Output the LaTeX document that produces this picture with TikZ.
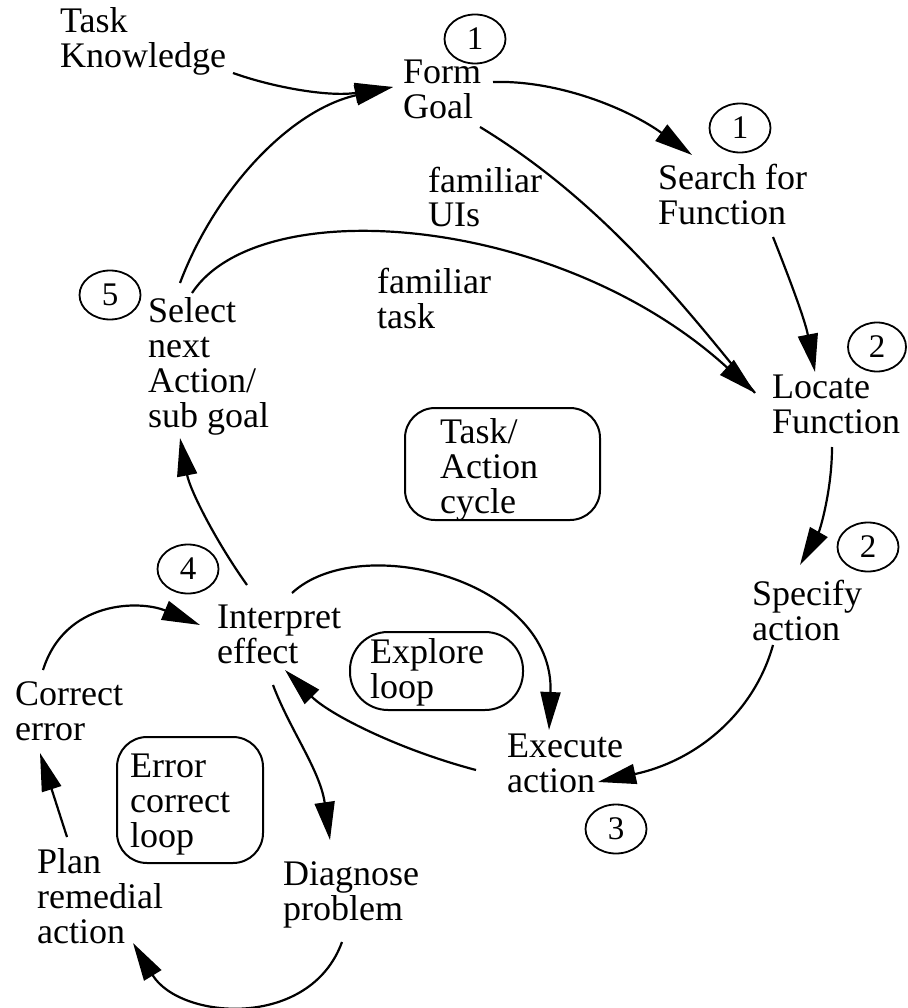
\documentclass[tikz,border=0pt]{standalone}
\usepackage{fontspec}
\setmainfont{Liberation Serif}
\usetikzlibrary{arrows.meta,shapes.geometric}
\begin{document}
\begin{tikzpicture}[x=1pt,y=-1pt,
  lbl/.style={anchor=base west,align=left,inner sep=0pt,font=\fontsize{36}{35}\selectfont},
  num/.style={ellipse,draw,line width=1.8pt,minimum width=61pt,minimum height=49pt,inner sep=0pt,font=\fontsize{33}{33}\selectfont},
  loopbox/.style={draw,line width=2pt,rounded corners=30pt},
  flow/.style={line width=2.2pt,-{Triangle[length=38pt,width=20pt]}},
  plainline/.style={line width=2.2pt}]
\useasboundingbox (0,0) rectangle (907,1008);

% step labels (placed by the baseline of their last line)
\node[lbl] (know)    at (60,68)   {Task\\Knowledge};
\node[lbl] (form)    at (403,119) {Form\\Goal};
\node[lbl] (search)  at (658,225) {Search for\\Function};
\node[lbl] (locate)  at (772,433) {Locate\\Function};
\node[lbl] (specify) at (752,640) {Specify\\action};
\node[lbl] (execute) at (507,792) {Execute\\action};
\node[lbl] (interp)  at (217,663) {Interpret\\effect};
\node[lbl] (select)  at (148,427) {Select\\next\\Action/\\sub goal};
\node[lbl] (fui)     at (428,227) {familiar\\UIs};
\node[lbl] (ftask)   at (377,328) {familiar\\task};
\node[lbl] (correct) at (15,740)  {Correct\\error};
\node[lbl] (plan)    at (37,943)  {Plan\\remedial\\action};
\node[lbl] (diag)    at (283,920) {Diagnose\\problem};

% loop names in rounded boxes
\node[lbl] (tac)  at (440,513) {Task/\\Action\\cycle};
\node[lbl] (expl) at (370,698) {Explore\\loop};
\node[lbl] (err)  at (130,847) {Error\\correct\\loop};
\draw[loopbox] (405,408) rectangle (600,520);
\draw[loopbox,rounded corners=38pt] (350,632) rectangle (523,710);
\draw[loopbox] (117,737) rectangle (263,863);

% stage numbers
\node[num] (n1a) at (475,39)  {1};
\node[num] (n1b) at (740,128) {1};
\node[num,minimum width=58pt] (n2a) at (877,347) {2};
\node[num] (n2b) at (868,547) {2};
\node[num] (n3)  at (616,829) {3};
\node[num] (n4)  at (188,569) {4};
\node[num] (n5)  at (110,295) {5};

% task/action cycle
\draw[flow] ([shift={(173,5)}]know.base west) .. controls +(42,15) and +(-63,10) .. ([shift={(-10,-32)}]form.base west);
\draw[flow] ([shift={(32,-144)}]select.base west) .. controls +(35,-93) and +(-103,23) .. ([shift={(-10,-32)}]form.base west);
\draw[flow] ([shift={(90,-37)}]form.base west) .. controls +(67,-2) and +(-62,-45) .. ([shift={(34,-70)}]search.base west);
\draw[plainline] ([shift={(77,8)}]form.base west) .. controls +(120,73) and +(-75,-93) .. ([shift={(-17,-40)}]locate.base west);
\draw[flow] ([shift={(44,-134)}]select.base west) .. controls +(68,-103) and +(-195,-178) .. ([shift={(-17,-40)}]locate.base west);
\draw[flow] ([shift={(115,12)}]search.base west) .. controls +(17,43) and +(-10,-52) .. ([shift={(43,-61)}]locate.base west);
\draw[flow] ([shift={(60,14)}]locate.base west) .. controls +(0,43) and +(20,-35) .. ([shift={(48,-75)}]specify.base west);
\draw[flow] ([shift={(21,5)}]specify.base west) .. controls +(-18,65) and +(102,-22) .. ([shift={(91,-10)}]execute.base west);
\draw[flow] ([shift={(30,-78)}]interp.base west) .. controls +(-32,-45) and +(10,52) .. ([shift={(32,11)}]select.base west);

% explore loop
\draw[flow] ([shift={(-31,-22)}]execute.base west) .. controls +(-76,-20) and +(45,45) .. ([shift={(68,7)}]interp.base west);
\draw[flow] ([shift={(75,-70)}]interp.base west) .. controls +(68,-63) and +(6,-150) .. ([shift={(42,-62)}]execute.base west);

% error correct loop
\draw[flow] ([shift={(56,22)}]interp.base west) .. controls +(17,45) and +(-10,-70) .. ([shift={(47,-80)}]diag.base west);
\draw[flow] ([shift={(59,22)}]diag.base west) .. controls +(-32,88) and +(47,77) .. ([shift={(96,0)}]plan.base west);
\draw[flow] ([shift={(30,-106)}]plan.base west) -- ([shift={(25,13)}]correct.base west);
\draw[flow] ([shift={(28,-70)}]correct.base west) .. controls +(22,-70) and +(-60,-25) .. ([shift={(-17,-38)}]interp.base west);
\end{tikzpicture}
\end{document}
